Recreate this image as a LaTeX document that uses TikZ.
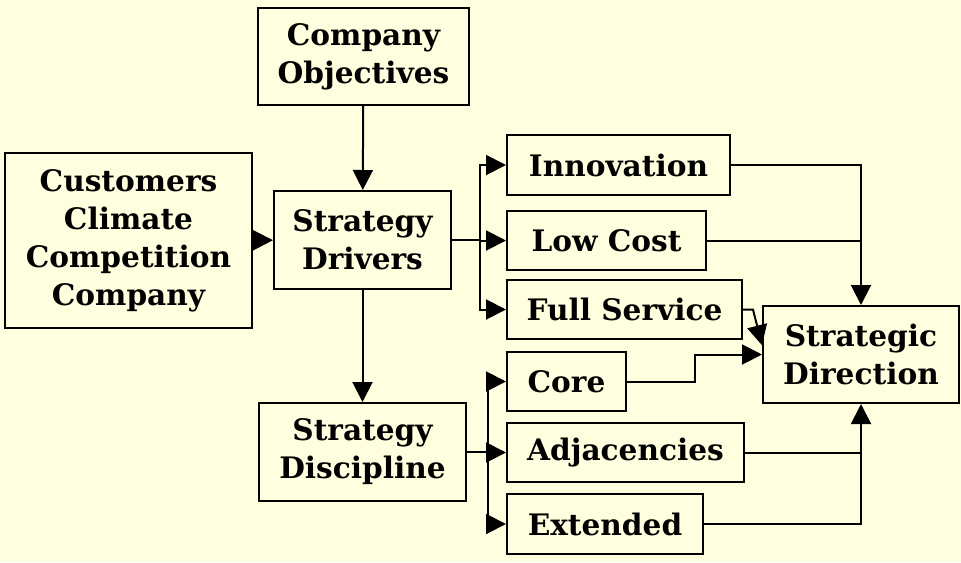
\documentclass[tikz,border=0pt]{standalone}
\usepackage{fontspec}
\setmainfont{DejaVu Serif}
\usetikzlibrary{arrows.meta}
\definecolor{paper}{RGB}{255,255,224}
\tikzset{>={Triangle[length=15pt,width=15pt]},
  box/.style={draw, fill=paper, inner sep=0pt, align=center,
    font=\bfseries\fontsize{22.2}{28.5}\selectfont},
  tag/.style={box, minimum height=44.25pt}}

\begin{document}
\begin{tikzpicture}[x=0.75pt, y=-0.75pt, line width=1.5pt]

           \fill[paper] (0,0) rectangle (961,562);

           \node[box, minimum width=158.25pt, minimum height=72.75pt] (CO) at (363.5,56.5) {Company\\Objectives};
           \node[box, minimum width=185.25pt, minimum height=131.25pt] (Env) at (128.5,240.5) {Customers\\Climate\\Competition\\Company};
           \node[box, minimum width=132.75pt, minimum height=73.5pt] (SDr) at (362.5,240) {Strategy\\Drivers};
           \node[box, minimum width=155.25pt, minimum height=73.5pt] (SDi) at (362.5,452) {Strategy\\Discipline};
           \node[tag, minimum width=167.25pt, minimum height=45pt] (Inn) at (618.5,165) {Innovation};
           \node[tag, minimum width=149.25pt] (LC) at (606.5,240.5) {Low Cost};
           \node[tag, minimum width=176.25pt] (FS) at (624.5,309.5) {Full Service};
           \node[tag, minimum width=89.25pt] (Co) at (566.5,381.5) {Core};
           \node[tag, minimum width=177.75pt] (Adj) at (625.5,452.5) {Adjacencies};
           \node[tag, minimum width=147pt, minimum height=45pt] (Ext) at (605,524) {Extended};
           \node[box, minimum width=147pt, minimum height=72.75pt] (SDir) at (861,354.5) {Strategic\\Direction};

           \draw[->] (CO) to (SDr);
           \draw[->] (Env) to (SDr);
           \draw[->] (SDr) to (SDi);

           \draw (SDr.east) -- ++(28,0) coordinate (b1);
           \draw[->] (b1) |- (Inn.west);
           \draw[->] (b1) |- (LC.west);
           \draw[->] (b1) |- (FS.west);

           \draw (SDi.east) -- ++(21,0) coordinate (b2);
           \draw[->] (b2) |- (Co.west);
           \draw[->] (b2) |- (Adj.west);
           \draw[->] (b2) |- (Ext.west);

           \draw[->] (Inn.east) -| (SDir.north);
           \draw (LC.east) -- (LC.east -| SDir.north);
           \draw[->] (FS.east) -- ++(10,0) -- ([yshift=7pt]SDir.west);
           \draw[->] (Co.east) -- ++(68,0) |- (SDir.west);
           \draw (Adj.east) -- (Adj.east -| SDir.south);
           \draw[->] (Ext.east) -| (SDir.south);

         \end{tikzpicture}
\end{document}
